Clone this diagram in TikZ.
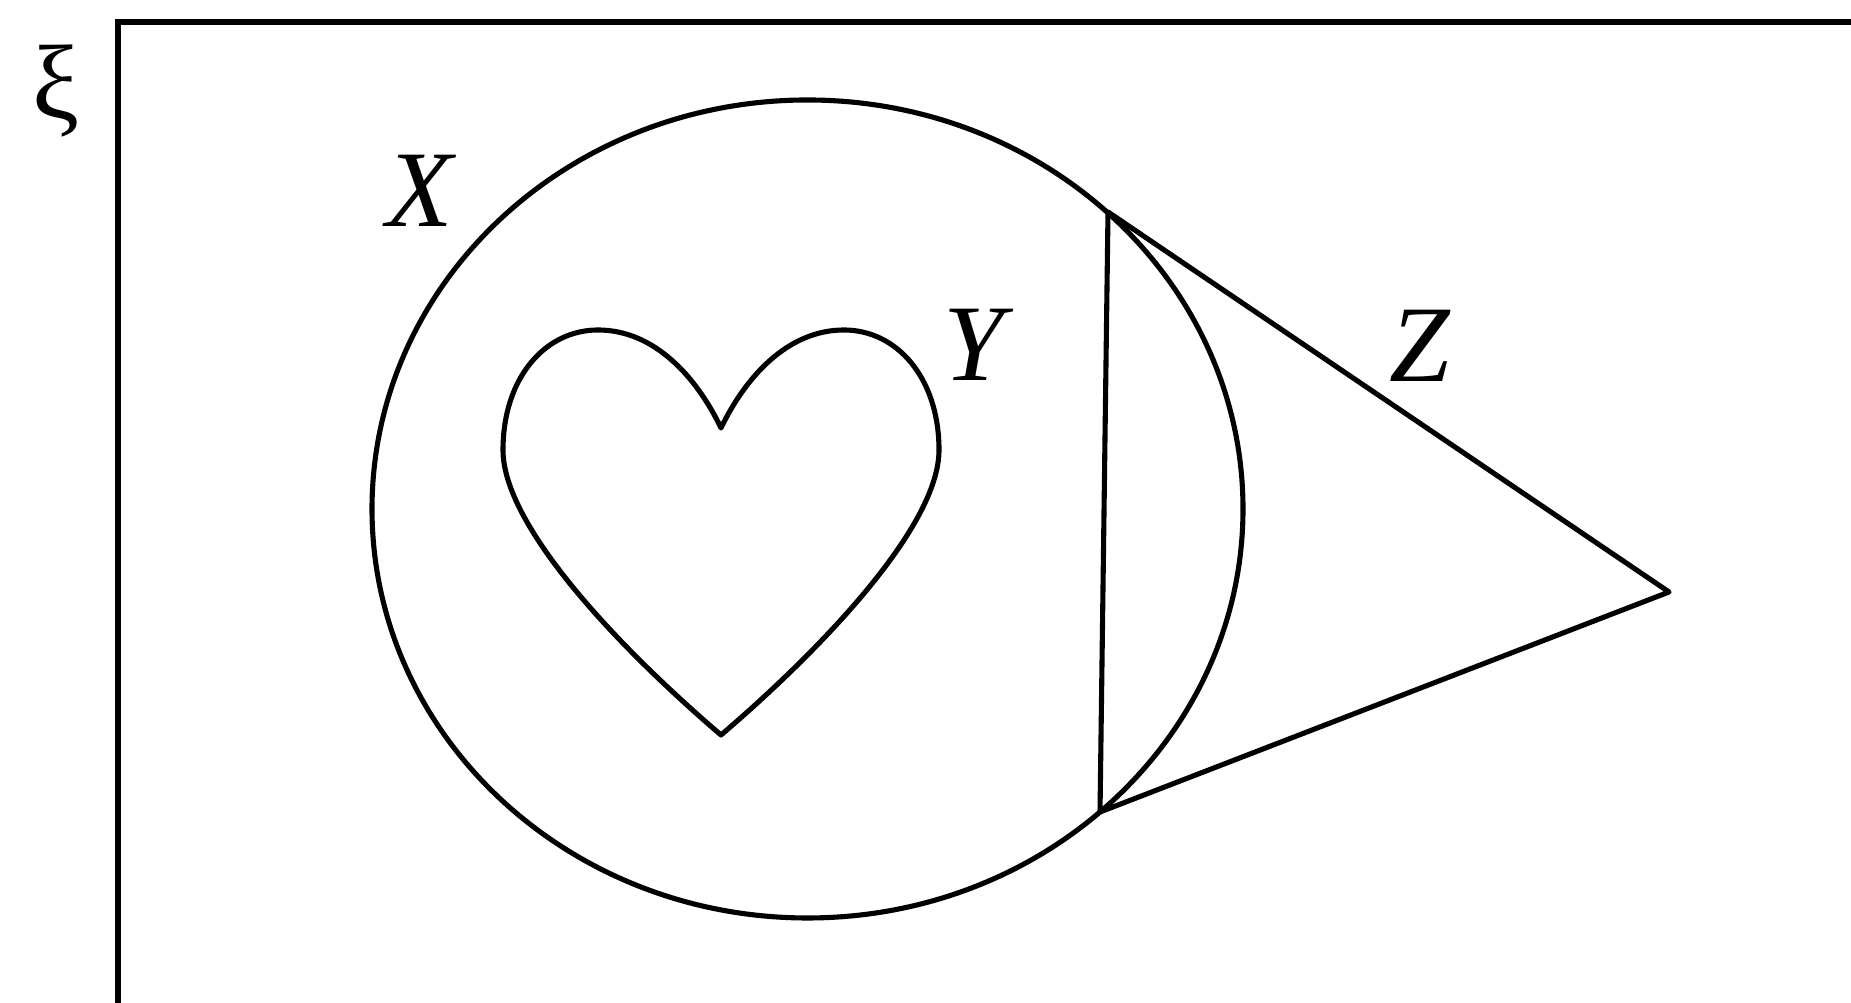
\documentclass[tikz,border=0pt]{standalone}
\usepackage{fontspec}
\setmainfont{Liberation Serif}
\usepackage{tikz}
\usetikzlibrary{positioning, calc}

\begin{document}
\begin{tikzpicture}[
    outline/.style={draw=black, line width=1.45pt, line join=round},
    frame/.style={draw=black, line width=1.8pt},
    setlabel/.style={font=\fontsize{31}{33}\selectfont\itshape, inner sep=0pt},
    unilabel/.style={font=\fontsize{30}{32}\selectfont, inner sep=0pt}
]
    \useasboundingbox (0,0) rectangle (18.51,10.03);

    % universal set
    \draw[frame] (1.18,-0.2) -- (1.18,9.81) -- (18.8,9.81);
    \node[unilabel] (xi) at (0.56,9.12) {ξ};

    % set X
    \draw[outline] (8.075,4.94) ellipse [x radius=4.355, y radius=4.09];
    \node[setlabel] (X) at (4.20,8.12) {X};

    % set Z
    \coordinate (top) at (11.08,7.91);
    \coordinate (bot) at (11.00,1.91);
    \coordinate (apex) at (16.69,4.11);
    \draw[outline] (top) -- (bot) -- (apex) -- cycle;
    \node[setlabel] (Z) at (14.20,6.57) {Z};

    % set Y
    \draw[outline] (7.21,5.75)
        .. controls (6.97,6.25) and (6.55,6.73) .. (5.98,6.73)
        .. controls (5.45,6.73) and (5.03,6.25) .. (5.03,5.53)
        .. controls (5.03,4.75) and (6.25,3.5) .. (7.21,2.68)
        .. controls (8.17,3.5) and (9.39,4.75) .. (9.39,5.53)
        .. controls (9.39,6.25) and (8.97,6.73) .. (8.44,6.73)
        .. controls (7.87,6.73) and (7.45,6.25) .. (7.21,5.75) -- cycle;
    \node[setlabel] (Y) at (9.74,6.58) {Y};
\end{tikzpicture}
\end{document}
